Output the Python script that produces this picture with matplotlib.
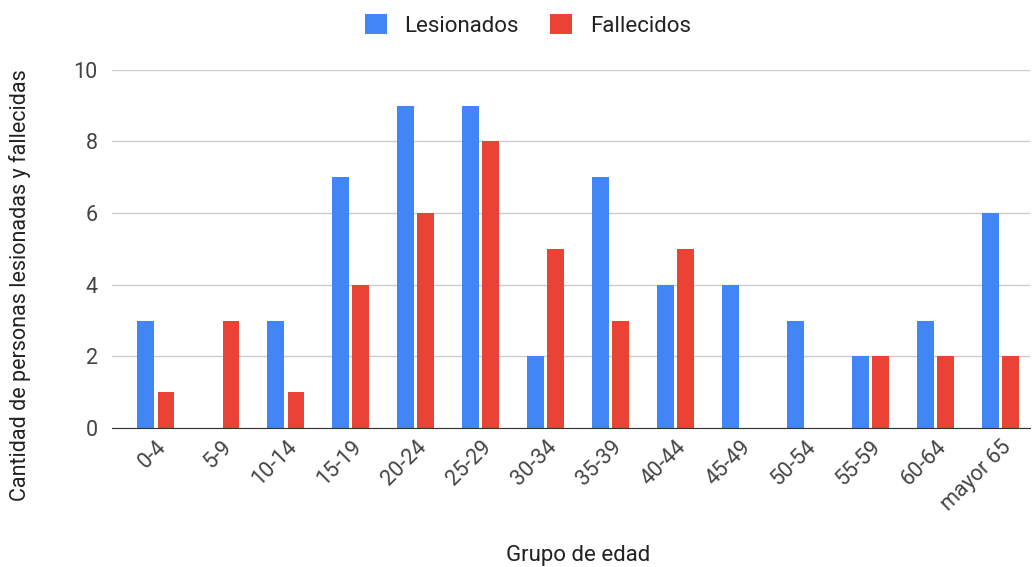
from matplotlib import pyplot as plt
import numpy as np

plt.rcParams['font.family'] = ['Roboto', 'DejaVu Sans']

grupos = ['0-4', '5-9', '10-14', '15-19', '20-24', '25-29', '30-34',
          '35-39', '40-44', '45-49', '50-54', '55-59', '60-64', 'mayor 65']
lesionados = [3, 0, 3, 7, 9, 9, 2, 7, 4, 4, 3, 2, 3, 6]
fallecidos = [1, 3, 1, 4, 6, 8, 5, 3, 5, 0, 0, 2, 2, 2]

azul = '#4285F4'
rojo = '#EA4335'

fig = plt.figure(figsize=(10.35, 5.67), dpi=100)
ax = fig.add_axes([0.108, 0.245, 0.887, 0.632])

x = np.arange(len(grupos))
w = 0.26
ax.bar(x - w / 2 - 0.025, lesionados, w, color=azul, label='Lesionados', zorder=3)
ax.bar(x + w / 2 + 0.025, fallecidos, w, color=rojo, label='Fallecidos', zorder=3)

ax.set_ylim(0, 10)
ax.set_xlim(-0.68, len(grupos) - 0.55)
ax.set_yticks([0, 2, 4, 6, 8, 10])
ax.yaxis.grid(True, color='#cccccc', linewidth=1, zorder=0)
ax.tick_params(axis='y', length=0, labelsize=15.5, colors='#444444', pad=10)
ax.set_xticks(x)
ax.set_xticklabels(grupos, rotation=45, ha='right', rotation_mode='anchor')
ax.tick_params(axis='x', length=0, labelsize=15.5, colors='#444444', pad=6)
for s in ['top', 'right', 'left']:
    ax.spines[s].set_visible(False)
ax.spines['bottom'].set_color('#333333')
ax.spines['bottom'].set_zorder(4)

fig.text(578 / 1035, 1 - 555 / 567, 'Grupo de edad', fontsize=16, color='#222222',
         ha='center', va='center')
fig.text(20 / 1035, 1 - 285 / 567, 'Cantidad de personas lesionadas y fallecidas',
         fontsize=15.5, color='#222222', rotation=90, ha='center', va='center')

fig.legend(loc='upper center', bbox_to_anchor=(0.51, 1.01), ncol=2, frameon=False,
           fontsize=16, handlelength=1.0, handleheight=1.0, columnspacing=1.4,
           handletextpad=0.8, labelcolor='#222222')

plt.savefig('out.png')
